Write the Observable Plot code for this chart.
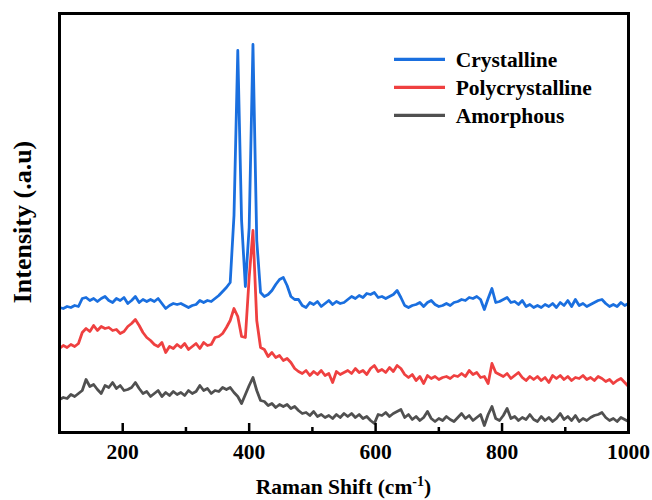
<!DOCTYPE html>
<html>
<head>
<meta charset="utf-8">
<script src="https://cdn.jsdelivr.net/npm/d3@7"></script>
<script src="https://cdn.jsdelivr.net/npm/@observablehq/plot@0.6"></script>
<style>
  body { margin: 0; background: #fff; }
</style>
</head>
<body>
<div id="chart"></div>
<script>
// Raman shift grid (cm^-1): 100 to 1000, sampled every 6 cm^-1
const ramanStart = 100;
const ramanStep = 6;

// Intensity (arbitrary units)
const crystalline = [
  125,124,126,125,127,126,134,135,132,134,
  131,134,136,132,130,134,132,135,129,132,
  136,130,133,131,133,131,134,129,124,127,
  129,128,129,127,125,127,128,132,130,132,
  131,134,137,141,145,150,217,382,212,146,
  205,388,192,140,136,138,142,148,153,155,
  147,136,133,133,127,125,130,128,131,126,
  129,132,128,131,129,130,133,136,134,137,
  135,139,138,140,135,136,134,136,138,142,
  135,127,125,127,128,130,126,130,132,128,
  126,127,129,127,130,131,133,132,135,134,
  136,133,123,134,144,130,131,133,135,130,
  131,128,132,126,128,125,127,125,128,126,
  129,125,130,127,132,126,133,127,129,126,
  128,130,132,133,129,126,128,126,130,127,129
];
const polycrystalline = [
  84,87,85,88,86,89,100,104,101,107,
  102,106,104,105,102,103,99,101,106,109,
  113,107,100,95,92,88,86,90,80,86,
  84,88,85,89,83,86,89,84,90,87,
  88,95,96,99,105,112,124,116,96,95,
  155,202,112,85,83,76,80,75,77,72,
  74,70,64,61,59,62,57,61,58,62,
  57,59,50,61,58,60,62,59,64,60,
  62,58,64,67,61,63,60,65,61,67,
  64,58,55,58,52,56,49,57,54,56,
  53,55,56,54,57,56,59,56,62,58,
  60,55,56,49,69,60,58,56,59,54,
  57,60,55,52,56,53,56,52,55,50,
  57,54,57,53,56,52,55,54,57,53,
  55,52,56,54,51,53,49,52,54,50,46
];
const amorphous = [
  33,35,34,38,36,39,42,53,46,48,
  43,39,47,45,50,44,47,42,43,45,
  50,44,39,41,36,39,42,36,40,37,
  41,38,40,37,42,39,41,47,42,44,
  39,42,41,45,43,45,40,36,29,38,
  47,55,42,32,31,27,29,25,28,26,
  28,24,26,22,19,20,17,21,16,18,
  15,17,14,18,15,19,16,19,15,18,
  14,16,12,9,18,17,20,16,19,21,
  23,15,18,13,16,12,15,21,14,11,
  14,12,16,13,11,15,19,14,17,12,
  15,18,7,18,26,14,12,17,24,14,
  16,12,15,13,18,13,11,16,12,15,
  11,14,19,13,16,12,17,11,14,12,
  15,17,18,20,15,12,14,11,15,13,11
];

const seriesNames = ["Crystalline", "Polycrystalline", "Amorphous"];
const seriesColors = ["#1a6fdf", "#ef4040", "#505050"];
const majorTicks = [200, 400, 600, 800, 1000];
const minorTicks = [300, 500, 700, 900];
const xDomain = [100, 1000];
const yDomain = [0, 419];
const xTitle = "Raman Shift (cm";
const xTitleSup = "-1";
const yTitle = "Intensity (.a.u)";

const seriesValues = [crystalline, polycrystalline, amorphous];
const rows = [];
seriesValues.forEach((vals, s) => {
  vals.forEach((v, i) => rows.push({x: ramanStart + i * ramanStep, y: v, series: seriesNames[s]}));
});

const W = 652, H = 500;
const mL = 59, mR = 24, mT = 13, mB = 68;
const innerH = H - mT - mB;
const font = "'Liberation Serif', 'Times New Roman', serif";

const plot = Plot.plot({
  width: W, height: H,
  marginLeft: mL, marginRight: mR, marginTop: mT, marginBottom: mB,
  x: {domain: xDomain},
  y: {domain: yDomain, axis: null},
  color: {domain: seriesNames, range: seriesColors},
  style: {fontFamily: font, fontWeight: "bold", background: "white", color: "black"},
  marks: [
    Plot.line(rows, {x: "x", y: "y", z: "series", stroke: "series", strokeWidth: 2.8, strokeLinejoin: "round"}),
    Plot.tickX(majorTicks, {x: d => d, stroke: "black", strokeWidth: 2.5, insetTop: innerH - 9}),
    Plot.tickX(minorTicks, {x: d => d, stroke: "black", strokeWidth: 2.5, insetTop: innerH - 5}),
    Plot.axisX(majorTicks, {tickSize: 0, tickPadding: 11, fontSize: 21.5, fontWeight: "bold", tickFormat: d => String(d), label: null}),
    Plot.frame({stroke: "black", strokeWidth: 3})
  ]
});

document.getElementById("chart").appendChild(plot);

const svg = d3.select(plot);
// X axis title with superscript
const xt = svg.append("text")
  .attr("x", (mL + W - mR) / 2)
  .attr("y", 494)
  .attr("text-anchor", "middle")
  .attr("font-family", font)
  .attr("font-weight", "bold")
  .attr("font-size", 21.5)
  .attr("fill", "black");
xt.append("tspan").text(xTitle);
xt.append("tspan").attr("dy", -8).attr("font-size", 14).text(xTitleSup);
xt.append("tspan").attr("dy", 8).text(")");

// Y axis title
svg.append("text")
  .attr("transform", "translate(31,222) rotate(-90)")
  .attr("text-anchor", "middle")
  .attr("font-family", font)
  .attr("font-weight", "bold")
  .attr("font-size", 26)
  .attr("fill", "black")
  .text(yTitle);

// Legend
const lg = svg.append("g").attr("text-anchor", "start");
seriesNames.forEach((name, i) => {
  const yy = 59.3 + 28 * i;
  lg.append("line")
    .attr("x1", 394).attr("x2", 445).attr("y1", yy).attr("y2", yy)
    .attr("stroke", seriesColors[i]).attr("stroke-width", 3.3);
  lg.append("text")
    .attr("x", 455.7).attr("y", yy + 7.2)
    .attr("text-anchor", "start")
    .attr("font-family", font).attr("font-weight", "bold").attr("font-size", 21.5)
    .attr("fill", "black")
    .text(name);
});
</script>
</body>
</html>
